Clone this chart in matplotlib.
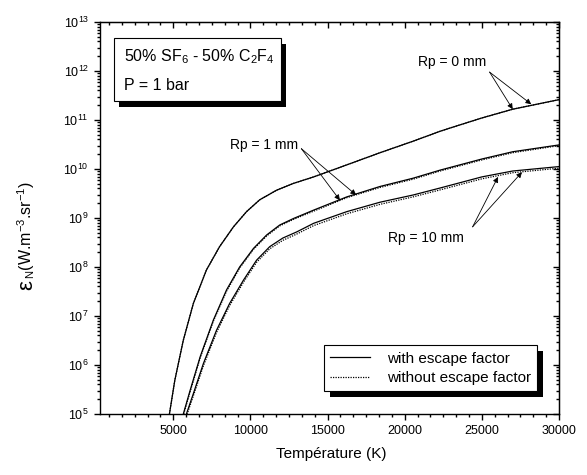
import matplotlib
matplotlib.use('Agg')
import matplotlib.pyplot as plt
from matplotlib.ticker import MultipleLocator, AutoMinorLocator, LogLocator, NullFormatter
from matplotlib.patches import Rectangle
import numpy as np

plt.rcParams['font.family'] = ['Liberation Sans', 'DejaVu Sans']
plt.rcParams['mathtext.fontset'] = 'custom'
plt.rcParams['mathtext.rm'] = 'Liberation Sans'
plt.rcParams['mathtext.it'] = 'Liberation Sans:italic'
plt.rcParams['mathtext.bf'] = 'Liberation Sans:bold'

# Rp = 0 mm (escape factor has no effect -> both curves identical)
temp_rp0 = [4700, 4750, 5100, 5650, 6300, 7150, 8000, 8900, 9750, 10600, 11700,
            12800, 14100, 16200, 18400, 20550, 22300, 23150, 25000, 27000, 30000]
rp0_with = [8.0e4, 1.0e5, 4.9e5, 3.2e6, 1.8e7, 8.7e7, 2.6e8, 6.6e8, 1.35e9, 2.35e9, 3.7e9,
            5.1e9, 6.9e9, 1.2e10, 2.15e10, 3.7e10, 5.9e10, 7.2e10, 1.1e11, 1.66e11, 2.6e11]
rp0_without = rp0_with

# Rp = 1 mm
temp_rp1 = [5600, 5650, 6100, 6750, 7600, 8450, 9300, 10200, 11050, 11900, 12800,
            14100, 16250, 18400, 20550, 22300, 25000, 27000, 30000]
rp1_with = [8.5e4, 1.0e5, 3.1e5, 1.5e6, 8.3e6, 3.4e7, 1.0e8, 2.4e8, 4.5e8, 7.2e8, 9.8e8,
            1.45e9, 2.7e9, 4.4e9, 6.5e9, 9.5e9, 1.6e10, 2.25e10, 3.1e10]
rp1_without = [8.0e4, 9.4e4, 2.9e5, 1.42e6, 7.9e6, 3.2e7, 9.5e7, 2.3e8, 4.3e8, 6.9e8, 9.4e8,
               1.38e9, 2.6e9, 4.2e9, 6.2e9, 9.1e9, 1.53e10, 2.15e10, 3.0e10]

# Rp = 10 mm
temp_rp10 = [5830, 5850, 6300, 6950, 7800, 8650, 9550, 10400, 11250, 12100, 13000,
             14100, 16250, 18400, 20550, 22300, 25000, 27000, 30000]
rp10_with = [8.5e4, 1.0e5, 2.6e5, 1.07e6, 5.1e6, 1.8e7, 5.4e7, 1.38e8, 2.6e8, 3.9e8, 5.2e8,
             7.8e8, 1.35e9, 2.1e9, 2.95e9, 4.1e9, 6.9e9, 9.1e9, 1.12e10]
rp10_without = [7.8e4, 9.0e4, 2.35e5, 9.6e5, 4.6e6, 1.63e7, 4.9e7, 1.25e8, 2.35e8, 3.5e8, 4.7e8,
                7.0e8, 1.22e9, 1.9e9, 2.7e9, 3.75e9, 6.3e9, 8.4e9, 1.04e10]

# annotation anchors: label position, arrow start, arrow ends
labels = ['Rp = 0 mm', 'Rp = 1 mm', 'Rp = 10 mm']
label_pos = [(23100, 1.5e12), (10900, 3.1e10), (21400, 3.9e8)]
arrow_from = [(25500, 9.5e11), (13300, 2.6e10), (24400, 6.6e8)]
arrow_to = [[(27000, 1.66e11), (28200, 2.1e11)],
            [(15800, 2.3e9), (16850, 2.95e9)],
            [(26050, 6.9e9), (27600, 8.6e9)]]

fig = plt.figure(figsize=(5.87, 4.75), dpi=100)
ax = fig.add_axes([100 / 587, 61 / 475, 459 / 587, 392 / 475])

dot = (0, (1, 1))
h_with, = ax.plot(temp_rp0, rp0_with, color='black', lw=0.9)
h_without, = ax.plot(temp_rp0, rp0_without, color='black', lw=0.9, ls=dot)
ax.plot(temp_rp1, rp1_with, color='black', lw=0.9)
ax.plot(temp_rp1, rp1_without, color='black', lw=0.9, ls=dot)
ax.plot(temp_rp10, rp10_with, color='black', lw=0.9)
ax.plot(temp_rp10, rp10_without, color='black', lw=0.9, ls=dot)

ax.set_yscale('log')
ax.set_xlim(250, 30000)
ax.set_ylim(1e5, 1e13)

ax.xaxis.set_major_locator(MultipleLocator(5000))
ax.xaxis.set_minor_locator(AutoMinorLocator(6))
ax.yaxis.set_major_locator(LogLocator(base=10, numticks=20))
ax.yaxis.set_minor_locator(LogLocator(base=10, subs=np.arange(2, 10), numticks=100))
ax.yaxis.set_minor_formatter(NullFormatter())
ax.tick_params(which='both', direction='out', top=False, right=False, labelsize=9, width=1.0)
ax.tick_params(which='major', length=4.5)
ax.tick_params(which='minor', length=2.5)
for s in ax.spines.values():
    s.set_linewidth(1.0)

# mirrored axes with inward ticks
top = ax.secondary_xaxis('top')
top.xaxis.set_major_locator(MultipleLocator(5000))
top.xaxis.set_minor_locator(AutoMinorLocator(6))
top.tick_params(which='both', direction='in', labeltop=False, width=1.0)
top.tick_params(which='major', length=4.5)
top.tick_params(which='minor', length=2.5)
right = ax.secondary_yaxis('right')
right.yaxis.set_major_locator(LogLocator(base=10, numticks=20))
right.yaxis.set_minor_locator(LogLocator(base=10, subs=np.arange(2, 10), numticks=100))
right.yaxis.set_minor_formatter(NullFormatter())
right.tick_params(which='both', direction='in', labelright=False, width=1.0)
right.tick_params(which='major', length=4.5)
right.tick_params(which='minor', length=2.5)

ax.set_xlabel('Température (K)', fontsize=11)
ax.xaxis.set_label_coords(0.503, -0.085)

# y label: large epsilon followed by the rest, rotated
eps = fig.text(32 / 587, 1 - 290 / 475, 'ε', fontsize=16, rotation=90,
               rotation_mode='anchor', ha='left', va='baseline')

# curve labels with arrows
for lab, pos, start, ends in zip(labels, label_pos, arrow_from, arrow_to):
    ax.text(pos[0], pos[1], lab, fontsize=10, ha='center', va='center')
    for end in ends:
        ax.annotate('', xy=end, xytext=start,
                    arrowprops=dict(arrowstyle='-|>', lw=0.6, color='black',
                                    mutation_scale=8, shrinkA=0, shrinkB=0))

# gas mixture box with shadow
ax.add_patch(Rectangle((0.0305 + 0.0109, 0.798 - 0.0153), 0.3635, 0.161,
                       transform=ax.transAxes, facecolor='black', edgecolor='none', zorder=4))
ax.add_patch(Rectangle((0.0305, 0.798), 0.3635, 0.161, transform=ax.transAxes,
                       facecolor='white', edgecolor='black', lw=0.8, zorder=5))
ax.text(0.052, 0.911, '50% SF$_6$ - 50% C$_2$F$_4$', transform=ax.transAxes,
        fontsize=11.5, va='center', zorder=6)
ax.text(0.052, 0.839, 'P = 1 bar', transform=ax.transAxes, fontsize=11.5, va='center', zorder=6)

leg = ax.legend([h_with, h_without], ['with escape factor', 'without escape factor'],
                loc='lower right', bbox_to_anchor=(0.952, 0.0587), borderaxespad=0,
                frameon=True, fancybox=False, edgecolor='black', framealpha=1,
                fontsize=11, handlelength=2.6, handletextpad=1.1, borderpad=0.4,
                labelspacing=0.35)
leg.get_frame().set_linewidth(0.8)

fig.canvas.draw()
bb = leg.get_window_extent().transformed(fig.transFigure.inverted())
ax.add_patch(Rectangle((bb.x0 + 6 / 587, bb.y0 - 6 / 475), bb.width, bb.height,
                       transform=fig.transFigure, facecolor='black', edgecolor='none',
                       zorder=4.9, clip_on=False))

eb = eps.get_window_extent().transformed(fig.transFigure.inverted())
fig.text(32 / 587, eb.y1 + 1 / 475, '${}_\\mathregular{N}$(W.m$^{-3}$.sr$^{-1}$)',
         fontsize=11.5, rotation=90, rotation_mode='anchor', ha='left', va='baseline')

fig.savefig('out.png', dpi=100, facecolor='white')
